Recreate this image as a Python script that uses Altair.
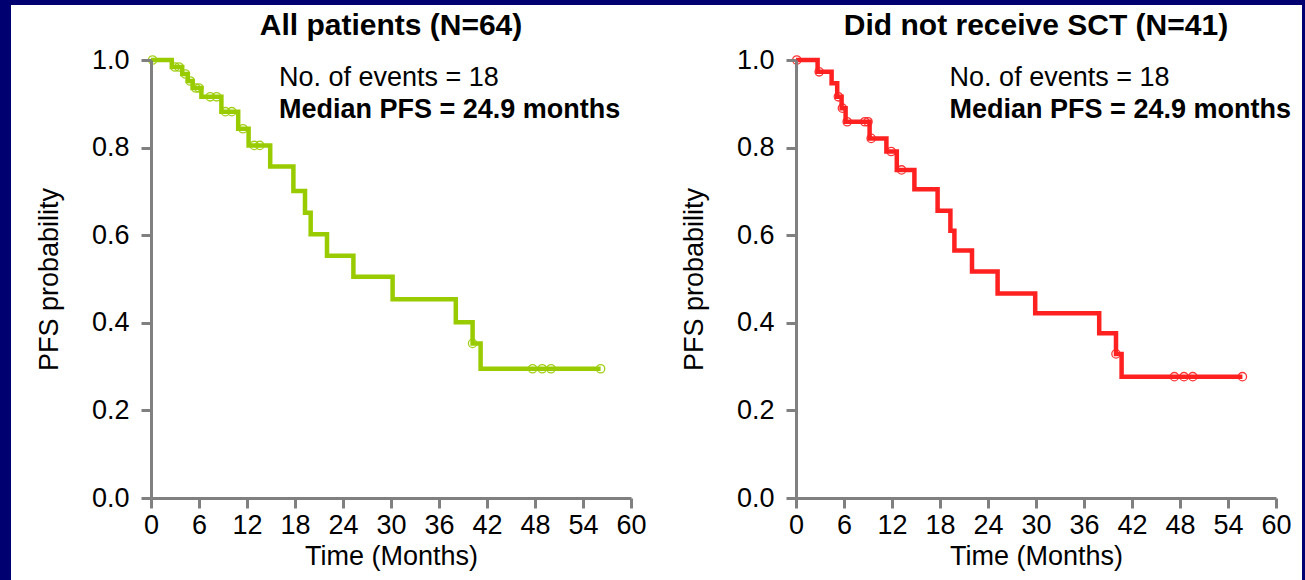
import altair as alt
import pandas as pd

FONT = "Liberation Sans"
NAVY = "#000070"
GREEN = "#99cc00"
RED = "#ff2020"

# ---- All patients (N=64) ----
t_all = [0, 2.6, 3.9, 4.6, 5.2, 6.3, 8.8, 10.9, 12.2, 14.9, 17.8, 19.25, 19.96,
         22.0, 25.3, 30.2, 38.1, 40.2, 41.2, 56.2]
s_all = [1.0, 0.984, 0.968, 0.952, 0.936, 0.916, 0.882, 0.843, 0.805, 0.757, 0.701,
         0.651, 0.602, 0.553, 0.505, 0.454, 0.401, 0.353, 0.295, 0.295]
cens_t_all = [0.2, 3.0, 3.5, 4.3, 4.9, 5.6, 6.0, 7.4, 8.2, 9.3, 10.1, 11.5, 12.9,
              13.6, 40.2, 47.7, 48.9, 50.0, 56.2]
cens_s_all = [1.0, 0.984, 0.984, 0.968, 0.952, 0.936, 0.936, 0.916, 0.916, 0.882,
              0.882, 0.843, 0.805, 0.805, 0.353, 0.295, 0.295, 0.295, 0.295]

# ---- Did not receive SCT (N=41) ----
t_nosct = [0, 2.7, 4.45, 5.15, 5.7, 6.2, 9.2, 11.3, 12.6, 14.8, 17.7, 19.3, 19.8,
           22.0, 25.2, 29.9, 37.9, 40.0, 40.7, 55.8]
s_nosct = [1.0, 0.973, 0.947, 0.916, 0.890, 0.859, 0.821, 0.791, 0.749, 0.705, 0.656,
           0.610, 0.565, 0.517, 0.467, 0.422, 0.376, 0.329, 0.277, 0.277]
cens_t_nosct = [0.1, 2.9, 5.3, 5.8, 6.4, 8.6, 9.0, 9.4, 11.9, 13.2, 40.0, 47.3,
                48.5, 49.6, 55.8]
cens_s_nosct = [1.0, 0.973, 0.916, 0.890, 0.859, 0.859, 0.859, 0.821, 0.791, 0.749,
                0.329, 0.277, 0.277, 0.277, 0.277]

x_ticks = [0, 6, 12, 18, 24, 30, 36, 42, 48, 54, 60]
y_ticks = [0.0, 0.2, 0.4, 0.6, 0.8, 1.0]

titles = ["All patients (N=64)", "Did not receive SCT (N=41)"]
ann_lines = ["No. of events = 18", "Median PFS = 24.9 months"]


def panel(t, s, ct, cs, color, title, ann_x, with_bg=False):
    steps = pd.DataFrame({"t": t, "s": s})
    cens = pd.DataFrame({"t": ct, "s": cs})
    xs = alt.Scale(domain=[0, 60], nice=False, zero=False)
    ys = alt.Scale(domain=[0, 1], nice=False)
    axis_common = dict(
        domainColor="#808080", domainWidth=3, tickColor="#808080", tickWidth=3,
        tickSize=10, labelFont=FONT, labelFontSize=27, labelColor="black",
        titleFont=FONT, titleFontSize=27, titleFontWeight="normal",
        titleColor="black", grid=False, zindex=1,
    )
    xax = alt.Axis(values=x_ticks, title="Time (Months)", labelPadding=4,
                   titlePadding=5, labelFlush=False, labelOverlap=False, **axis_common)
    yax = alt.Axis(values=y_ticks, format=".1f", title="PFS probability",
                   labelPadding=12, titlePadding=28, **axis_common)

    line = alt.Chart(steps).mark_line(
        interpolate="step-after", color=color, strokeWidth=4.5
    ).encode(
        x=alt.X("t:Q", scale=xs, axis=xax),
        y=alt.Y("s:Q", scale=ys, axis=yax),
    )
    pts = alt.Chart(cens).mark_point(
        shape="circle", filled=False, color=color, size=70, strokeWidth=1.3, opacity=0.9
    ).encode(x=alt.X("t:Q", scale=xs), y=alt.Y("s:Q", scale=ys))

    ann_df = pd.DataFrame({"t": [ann_x, ann_x], "s": [0.959, 0.886],
                           "label": ann_lines})
    ann1 = alt.Chart(ann_df.iloc[[0]]).mark_text(
        align="left", baseline="middle", font=FONT, fontSize=27, color="black"
    ).encode(x=alt.X("t:Q", scale=xs), y=alt.Y("s:Q", scale=ys), text="label:N")
    ann2 = alt.Chart(ann_df.iloc[[1]]).mark_text(
        align="left", baseline="middle", font=FONT, fontSize=27, fontWeight="bold",
        color="black"
    ).encode(x=alt.X("t:Q", scale=xs), y=alt.Y("s:Q", scale=ys), text="label:N")

    ttl = alt.Chart(pd.DataFrame({"t": [30], "label": [title]})).mark_text(
        align="center", baseline="middle", font=FONT, fontSize=30, fontWeight="bold",
        color="black"
    ).encode(x=alt.X("t:Q", scale=xs), y=alt.value(-34), text="label:N")

    layers = [line, pts, ann1, ann2, ttl]
    if with_bg:
        bg = alt.Chart(pd.DataFrame({"a": [0]})).mark_rect(color="white").encode(
            x=alt.value(-140), x2=alt.value(1151), y=alt.value(-55), y2=alt.value(520)
        )
        layers = [bg] + layers
    return alt.layer(*layers).properties(width=480, height=438)


left = panel(t_all, s_all, cens_t_all, cens_s_all, GREEN, titles[0], 16.0, with_bg=True)
right = panel(t_nosct, s_nosct, cens_t_nosct, cens_s_nosct, RED, titles[1], 19.2)

chart = alt.hconcat(left, right, spacing=165, bounds="flush").configure(
    background=NAVY,
    padding={"left": 11, "top": 5, "right": 3, "bottom": 0},
).configure_view(stroke=None)

chart.save("out.html", embed_options={"renderer": "svg", "actions": False})
